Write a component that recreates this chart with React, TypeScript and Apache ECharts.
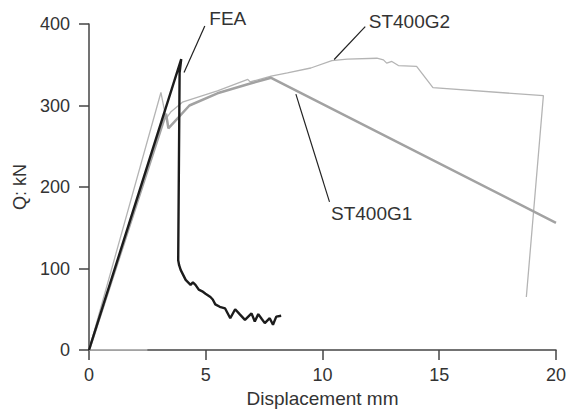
import React, { useEffect, useRef } from "react";
import * as echarts from "echarts";

const FEA_X = [0, 3.95, 3.88, 3.82, 3.86, 3.93, 4.14, 4.35, 4.45, 4.56, 4.7, 4.85, 4.99, 5.2, 5.3, 5.41, 5.6, 5.83, 6.05, 6.26, 6.45, 6.68, 6.96, 7.1, 7.25, 7.4, 7.53, 7.74, 7.88, 8.02, 8.23];
const FEA_Y = [0, 357, 340, 110, 104, 98, 86, 80, 83, 80, 74, 72, 69, 65, 62, 56, 53, 51, 39, 50, 44, 37, 45, 35, 44, 38, 33, 39, 31, 41, 42];

const G1_X = [0, 3.3, 3.4, 4.3, 5.5, 6.8, 7.8, 20];
const G1_Y = [0, 290, 272, 300, 315, 326, 334, 156];

const G2_X = [0, 3.08, 3.3, 3.5, 4.0, 5.5, 6.8, 6.9, 7.8, 8.5, 9.5, 10.4, 11.06, 12.33, 12.61, 12.75, 12.97, 13.25, 14.03, 14.73, 19.46, 18.73];
const G2_Y = [0, 316, 284, 292, 304, 318, 332, 329, 336, 340, 346, 355, 357, 358, 356, 352, 354, 349, 348, 322, 312, 65];

const BASE_X = [0, 2.5];
const BASE_Y = [0, 0];

const LABELS = ["FEA", "ST400G2", "ST400G1"];
const LEADER_FEA = [[4.07, 340.6], [4.96, 397.6]];
const LEADER_G2 = [[10.5, 356.4], [11.83, 396.7]];
const LEADER_G1 = [[8.86, 314], [10.3, 181.8]];

const X_TICKS = [0, 5, 10, 15, 20];
const Y_TICKS = [0, 100, 200, 300, 400];

const zip = (xs: number[], ys: number[]) => xs.map((x, i) => [x, ys[i]]);

const FONT = "'Liberation Sans', Arial, sans-serif";
const TEXT = "#333";

export default function App() {
  const ref = useRef<HTMLDivElement>(null);
  useEffect(() => {
    if (!ref.current) return;
    const chart = echarts.init(ref.current, undefined, { renderer: "svg" });
    const leader = (pts: number[][], text: string, offset: number[]) => ({
      type: "line",
      data: pts.map((p, i) =>
        i === pts.length - 1
          ? {
              value: p,
              label: {
                show: true,
                formatter: text,
                position: "right",
                distance: 0,
                offset,
                color: TEXT,
                fontSize: 19,
                fontFamily: FONT,
              },
            }
          : { value: p, label: { show: false } }
      ),
      symbol: "circle",
      symbolSize: 1,
      showSymbol: true,
      showAllSymbol: true,
      itemStyle: { color: "rgba(0,0,0,0)" },
      lineStyle: { color: "#222", width: 1.2 },
      z: 5,
    });
    chart.setOption({
      animation: false,
      grid: { left: 89, right: 8, top: 24, bottom: 59 },
      xAxis: {
        type: "value",
        min: 0,
        max: 20,
        interval: 5,
        name: "Displacement mm",
        nameLocation: "middle",
        nameGap: 39,
        nameTextStyle: { color: TEXT, fontSize: 19, fontFamily: FONT },
        axisLine: { lineStyle: { color: "#444", width: 1.5 } },
        axisTick: { show: true, length: 10, lineStyle: { color: "#444", width: 1.5 } },
        axisLabel: {
          color: TEXT,
          fontSize: 18,
          fontFamily: FONT,
          margin: 16,
          formatter: (v: number) => (X_TICKS.includes(v) ? String(v) : ""),
        },
        splitLine: { show: false },
      },
      yAxis: {
        type: "value",
        min: 0,
        max: 400,
        interval: 100,
        name: "Q: kN",
        nameLocation: "middle",
        nameGap: 60,
        nameRotate: 90,
        nameTextStyle: { color: TEXT, fontSize: 18, fontFamily: FONT },
        axisLine: { show: true, lineStyle: { color: "#444", width: 1.5 } },
        axisTick: { show: true, length: 10, lineStyle: { color: "#444", width: 1.5 } },
        axisLabel: {
          color: TEXT,
          fontSize: 18,
          fontFamily: FONT,
          margin: 19,
          formatter: (v: number) => (Y_TICKS.includes(v) ? String(v) : ""),
        },
        splitLine: { show: false },
      },
      series: [
        {
          type: "line",
          data: zip(BASE_X, BASE_Y),
          symbol: "none",
          lineStyle: { color: "#c8c8c8", width: 1.5 },
        },
        {
          type: "line",
          name: "ST400G2",
          data: zip(G2_X, G2_Y),
          symbol: "none",
          lineStyle: { color: "#b4b4b4", width: 1.3 },
        },
        {
          type: "line",
          name: "ST400G1",
          data: zip(G1_X, G1_Y),
          symbol: "none",
          lineStyle: { color: "#a2a2a2", width: 2.5 },
        },
        {
          type: "line",
          name: "FEA",
          data: zip(FEA_X, FEA_Y),
          symbol: "none",
          lineStyle: { color: "#1c1c1c", width: 2.4 },
          z: 4,
        },
        leader(LEADER_FEA, LABELS[0], [4, -7]),
        leader(LEADER_G2, LABELS[1], [3, -5]),
        leader(LEADER_G1, LABELS[2], [1, 12]),
      ],
    });
    return () => chart.dispose();
  }, []);
  return (
    <div
      ref={ref}
      style={{ position: "fixed", left: 0, top: 0, width: 569, height: 413, background: "#fff" }}
    />
  );
}
